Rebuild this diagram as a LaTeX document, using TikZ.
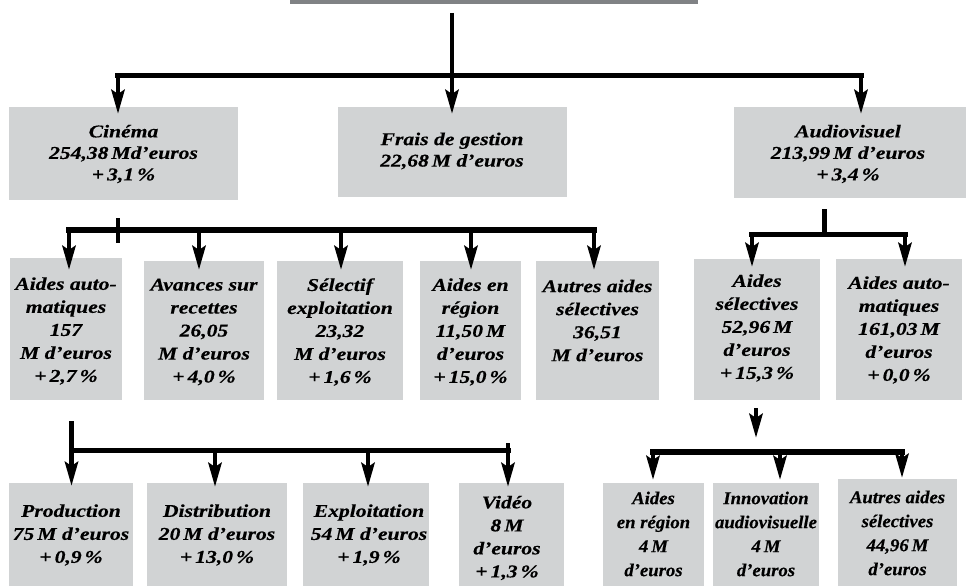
\documentclass[tikz,border=0pt]{standalone}
\usepackage{fontspec}
\setmainfont{Liberation Serif}
\newfontfamily\fB{Liberation Serif}[FakeStretch=1.2,FakeBold=0.4]
\newfontfamily\fD{Liberation Serif}[FakeStretch=1.04,FakeBold=0.4]
\usetikzlibrary{arrows.meta}
\definecolor{boxgray}{HTML}{D1D3D4}
\definecolor{bargray}{HTML}{808285}
\begin{document}
\begin{tikzpicture}[x=1pt,y=-1pt,
  box/.style={fill=boxgray, draw=none, inner sep=0, outer sep=0, anchor=north west},
  bar/.style={fill=bargray, draw=none, inner sep=0, outer sep=0, anchor=north west},
  wire/.style={line width=5.5pt, line cap=rect},
  vwire/.style={line width=4.8pt},
  arr/.style={line width=4.8pt, -{Stealth[length=24pt,width=13pt,inset=4pt]}},
  t1/.style={align=center, inner sep=0, font=\fB\bfseries\itshape\fontsize{18}{21.5}\selectfont},
  t2/.style={align=center, inner sep=0, font=\fB\bfseries\itshape\fontsize{18}{23}\selectfont},
  t3/.style={align=center, inner sep=0, font=\fB\bfseries\itshape\fontsize{18}{23}\selectfont},
  t4/.style={align=center, inner sep=0, font=\fD\bfseries\itshape\fontsize{18}{24}\selectfont}]
\useasboundingbox (0,0) rectangle (970,586);

% top bar (cut off)
\node[bar, minimum width=408pt, minimum height=24pt] (top) at (290,-20) {};

% row 1 boxes
\node[box, minimum width=229pt, minimum height=93pt] (cin) at (9,107) {};
\node[box, minimum width=229pt, minimum height=90pt] (frais) at (338,107) {};
\node[box, minimum width=232pt, minimum height=91pt] (audio) at (734,107) {};

% row 2 boxes
\node[box, minimum width=112pt, minimum height=142pt] (aa) at (10,258) {};
\node[box, minimum width=120pt, minimum height=139pt] (av) at (144,261) {};
\node[box, minimum width=126pt, minimum height=139pt] (sel) at (277,261) {};
\node[box, minimum width=101pt, minimum height=139pt] (reg) at (420,261) {};
\node[box, minimum width=123pt, minimum height=139pt] (aut) at (536,261) {};
\node[box, minimum width=126pt, minimum height=141pt] (asel) at (694,259) {};
\node[box, minimum width=126pt, minimum height=141pt] (aaut) at (836,259) {};

% row 3 boxes
\node[box, minimum width=124pt, minimum height=110pt] (prod) at (9,483) {};
\node[box, minimum width=140pt, minimum height=110pt] (dist) at (147,483) {};
\node[box, minimum width=126pt, minimum height=110pt] (expl) at (303,483) {};
\node[box, minimum width=105pt, minimum height=110pt] (vid) at (459,483) {};
\node[box, minimum width=101pt, minimum height=110pt] (areg) at (603,483) {};
\node[box, minimum width=106pt, minimum height=110pt] (inno) at (713,483) {};
\node[box, minimum width=119pt, minimum height=114pt] (asel2) at (838,479) {};

% texts row 1
\node[t1] (tcin) at (123.5,154) {Cinéma\\254,38\,Md’euros\\+\,3,1\,\%};
\node[t1] (tfrais) at (452,151) {Frais de gestion\\22,68\,M d’euros};
\node[t1] (taudio) at (848,154) {Audiovisuel\\213,99\,M d’euros\\+\,3,4\,\%};

% texts row 2
\node[t2] (taa) at (66,331) {Aides auto-\\matiques\\157\\M d’euros\\+\,2,7\,\%};
\node[t2] (tav) at (204,332) {Avances sur\\recettes\\26,05\\M d’euros\\+\,4,0\,\%};
\node[t2] (tsel) at (340,332) {Sélectif\\exploitation\\23,32\\M d’euros\\+\,1,6\,\%};
\node[t2] (treg) at (470.5,332) {Aides en\\région\\11,50\,M\\d’euros\\+\,15,0\,\%};
\node[t2] (taut) at (597.5,320.5) {Autres aides\\sélectives\\36,51\\M d’euros};
\node[t2] (tasel) at (757,328) {Aides\\sélectives\\52,96\,M\\d’euros\\+\,15,3\,\%};
\node[t2] (taaut) at (899,330) {Aides auto-\\matiques\\161,03\,M\\d’euros\\+\,0,0\,\%};

% texts row 3
\node[t3] (tprod) at (71,535) {Production\\75\,M d’euros\\+\,0,9\,\%};
\node[t3] (tdist) at (217,535) {Distribution\\20\,M d’euros\\+\,13,0\,\%};
\node[t3] (texpl) at (369,535) {Exploitation\\54\,M d’euros\\+\,1,9\,\%};
\node[t3] (tvid) at (507,538) {Vidéo\\8\,M\\d’euros\\+\,1,3\,\%};
\node[t4] (tareg) at (653.5,534) {Aides\\en région\\4\,M\\d’euros};
\node[t4] (tinno) at (766,534) {Innovation\\audiovisuelle\\4\,M\\d’euros};
\node[t4] (tasel2) at (897.5,533) {Autres aides\\sélectives\\44,96\,M\\d’euros};

% connectors level 1
\coordinate (j0) at (452,13);
\coordinate (h0) at (452,75.5);
\coordinate (h0l) at (118,75.5);
\coordinate (h0r) at (861,75.5);
\draw[vwire] (j0) -- (h0);
\draw[wire] (h0l) -- (h0r);
\draw[arr] (h0l) -- ([yshift=-7pt]h0l |- cin.north);
\draw[arr] (h0) -- ([yshift=-7pt]h0 |- frais.north);
\draw[arr] (h0r) -- ([yshift=-7pt]h0r |- audio.north);

% connectors cinema level 2
\coordinate (tk1) at (118,218);
\coordinate (tk2) at (118,243);
\coordinate (h1l) at (69,230);
\coordinate (h1r) at (594,230);
\coordinate (h1b) at (199,230);
\coordinate (h1c) at (341,230);
\coordinate (h1d) at (471,230);
\draw[vwire] (tk1) -- (tk2);
\draw[wire] (h1l) -- (h1r);
\draw[arr] (h1l) -- ([yshift=-12pt]h1l |- aa.north);
\draw[arr] (h1b) -- ([yshift=-9pt]h1b |- av.north);
\draw[arr] (h1c) -- ([yshift=-9pt]h1c |- sel.north);
\draw[arr] (h1d) -- ([yshift=-9pt]h1d |- reg.north);
\draw[arr] (h1r) -- ([yshift=-9pt]h1r |- aut.north);

% connectors audiovisuel level 2
\coordinate (r0) at (824.5,209);
\coordinate (r1) at (824.5,234.5);
\coordinate (r1l) at (752,234.5);
\coordinate (r1r) at (905,234.5);
\draw[vwire] (r0) -- (r1);
\draw[wire] (r1l) -- (r1r);
\draw[arr] (r1l) -- ([yshift=-8pt]r1l |- asel.north);
\draw[arr] (r1r) -- ([yshift=-8pt]r1r |- aaut.north);

% connectors aides automatiques level 3
\coordinate (v0) at (71.5,421);
\coordinate (h2l) at (71.5,450.5);
\coordinate (h2r) at (508,450.5);
\coordinate (h2b) at (215,450.5);
\coordinate (h2c) at (368,450.5);
\coordinate (h2d) at (508,443);
\draw[wire] (h2l) -- (h2r);
\draw[arr] (v0) -- ([yshift=-3pt]v0 |- prod.north);
\draw[arr] (h2b) -- ([yshift=-4pt]h2b |- dist.north);
\draw[arr] (h2c) -- ([yshift=-4pt]h2c |- expl.north);
\draw[arr] (h2d) -- ([yshift=-4pt]h2d |- vid.north);

% connectors aides selectives level 3
\coordinate (s0) at (756,408);
\coordinate (s1) at (756,438);
\coordinate (h3l) at (653,452);
\coordinate (h3m) at (780,452);
\coordinate (h3r) at (902,452);
\draw[arr] (s0) -- (s1);
\draw[wire] (h3l) -- (h3r);
\draw[arr] (h3l) -- ([yshift=3pt]h3l |- areg.north);
\draw[arr] (h3m) -- ([yshift=3pt]h3m |- inno.north);
\draw[arr] (h3r) -- ([yshift=1pt]h3r |- asel2.north);
\end{tikzpicture}
\end{document}
